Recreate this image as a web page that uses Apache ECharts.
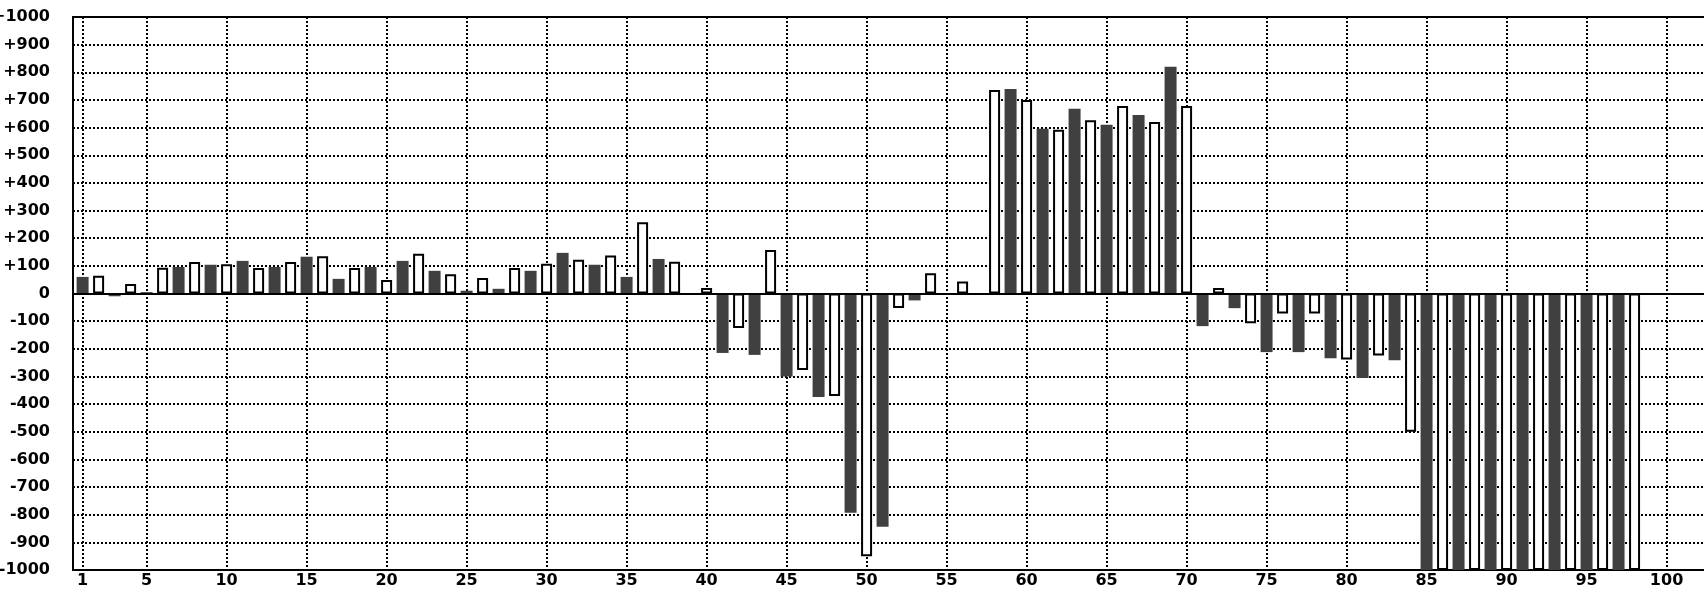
<!DOCTYPE html>
<html><head><meta charset="utf-8">
<script src="https://cdn.jsdelivr.net/npm/echarts@6/dist/echarts.min.js"></script>
<style>html,body{margin:0;padding:0;background:#fff;overflow:hidden}#c{width:1704px;height:592px}</style>
</head><body><div id="c"></div>
<script>
// values at odd positions 1,3,5,...,97 (dark bars)
const oddValues = [60, -10, 5, 96, 104, 118, 96, 133, 53, 96, 118, 82, 10, 17, 82, 147, 104, 60, 125, 0,
  -215, -222, -300, -374, -793, -844, -25, 0, 0, 740, 596, 668, 610, 646, 820, -118, -53, -212, -212, -234,
  -306, -241, -1000, -1000, -1000, -1000, -1000, -1000, -1000];
// values at even positions 2,4,6,...,98 (light bars)
const evenValues = [64, 34, 93, 114, 106, 92, 114, 135, 92, 49, 144, 70, 56, 92, 108, 122, 137, 258, 115, 20,
  -125, 157, -277, -371, -950, -52, 73, 43, 736, 700, 592, 627, 678, 620, 678, 20, -108, -72, -72, -239,
  -224, -500, -1000, -1000, -1000, -1000, -1000, -1000, -1000];
const xTickValues = [1, 5, 10, 15, 20, 25, 30, 35, 40, 45, 50, 55, 60, 65, 70, 75, 80, 85, 90, 95, 100];
const yMin = -1000, yMax = 1000, yStep = 100;

const darkData = oddValues.map((v, i) => [2 * i + 1, v]);
const lightData = evenValues.map((v, i) => [2 * i + 2, v]);

const font = { fontFamily: 'DejaVu Sans', fontWeight: 'bold', fontSize: 16, color: '#000' };
const xMin = 0.4, xMax = 103.59;
const dotted = { color: '#000', type: [2, 2], width: 2 };

const chart = echarts.init(document.getElementById('c'), null, { renderer: 'canvas' });
chart.setOption({
  animation: false,
  backgroundColor: '#fff',
  grid: { left: 73, top: 17, width: 1651, height: 553, outerBoundsMode: 'none', containLabel: false,
    show: true, borderColor: '#000', borderWidth: 2, backgroundColor: 'transparent' },
  xAxis: [
    { type: 'value', min: xMin, max: xMax,
      axisLine: { show: false },
      axisTick: { show: false, customValues: xTickValues },
      axisLabel: Object.assign({ customValues: xTickValues, margin: 3, hideOverlap: false }, font),
      splitLine: { show: true, lineStyle: dotted } },
    { type: 'value', min: xMin, max: xMax, show: false }
  ],
  yAxis: {
    type: 'value', min: yMin, max: yMax, interval: yStep,
    axisLine: { show: false }, axisTick: { show: false },
    axisLabel: Object.assign({ margin: 23, hideOverlap: false, formatter: v => v > 0 ? '+' + v : String(v) }, font),
    splitLine: { show: true, lineStyle: dotted }
  },
  series: [
    { type: 'bar', xAxisIndex: 0, data: darkData, barWidth: 12,
      itemStyle: { color: '#404040' },
      markLine: { silent: true, symbol: ['none', 'none'], label: { show: false },
        lineStyle: { type: 'solid', color: '#000', width: 2 }, data: [{ yAxis: 0 }] } },
    { type: 'bar', xAxisIndex: 1, data: lightData, barWidth: 11,
      itemStyle: { color: '#fff', borderColor: '#000', borderWidth: 2 } }
  ]
});
</script></body></html>
